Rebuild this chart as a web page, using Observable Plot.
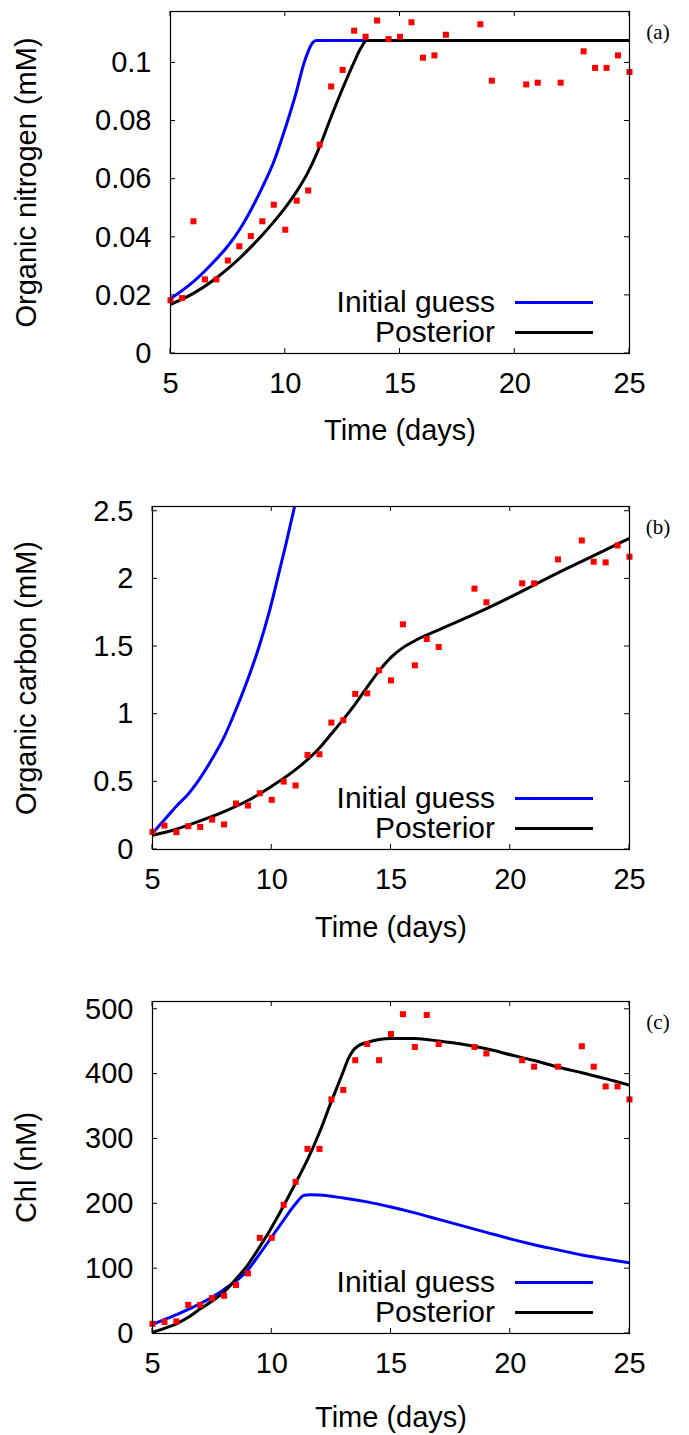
<!DOCTYPE html>
<html>
<head>
<meta charset="utf-8">
<script src="https://cdn.jsdelivr.net/npm/d3@7"></script>
<script src="https://cdn.jsdelivr.net/npm/@observablehq/plot@0.6"></script>
<style>
  html, body { margin: 0; padding: 0; background: #fff; }
  #chart { width: 689px; }
  #chart svg { display: block; }
</style>
</head>
<body>
<div id="chart"></div>
<script>
// ---------- data ----------
const seriesNames = ["Initial guess", "Posterior"];
const seriesColors = ["#0000ff", "#000000"];
const obsColor = "#ff0000";

const xTicks = [5, 10, 15, 20, 25];
const xLabel = "Time (days)";

// observation times (shared by the three panels)
const obsTime = [5, 5.5, 6, 6.5, 7, 7.5, 8, 8.5, 9, 9.5, 10, 10.5, 11, 11.5, 12, 12.5, 13, 13.5, 14, 14.5, 15, 15.5, 16, 16.5, 17, 18.5, 19, 20.5, 21, 22, 23, 23.5, 24, 24.5, 25];

// (a) organic nitrogen
const obsA = [0.0183, 0.0191, 0.0455, 0.0255, 0.0255, 0.0320, 0.0369, 0.0404, 0.0455, 0.0512, 0.0426, 0.0526, 0.0561, 0.0719, 0.0919, 0.0976, 0.1111, 0.1090, 0.1146, 0.1082, 0.1090, 0.1140, 0.1018, 0.1026, 0.1097, 0.1133, 0.0939, 0.0926, 0.0932, 0.0932, 0.1040, 0.0983, 0.0983, 0.1026, 0.0969];
const initTimeA = [5, 6, 7, 7.5, 8, 9, 9.5, 10, 10.5, 10.8, 11, 11.2, 11.35, 12, 25];
const initA = [0.0188, 0.0247, 0.0325, 0.0370, 0.0425, 0.0572, 0.0660, 0.0775, 0.0905, 0.0995, 0.1040, 0.1070, 0.1077, 0.1077, 0.1077];
const postTimeA = [5, 6, 7, 7.5, 8, 8.5, 9, 9.5, 10, 10.5, 11, 11.5, 12, 12.5, 13, 13.3, 13.55, 14, 25];
const postA = [0.0169, 0.0207, 0.0260, 0.0292, 0.0327, 0.0366, 0.0408, 0.0453, 0.0502, 0.0558, 0.0625, 0.0712, 0.0815, 0.0912, 0.1003, 0.1052, 0.1077, 0.1077, 0.1077];
const yTicksA = [0, 0.02, 0.04, 0.06, 0.08, 0.1];
const yLabelA = "Organic nitrogen (mM)";

// (b) organic carbon
const obsB = [0.13, 0.177, 0.128, 0.172, 0.167, 0.221, 0.185, 0.340, 0.325, 0.416, 0.367, 0.502, 0.473, 0.699, 0.704, 0.938, 0.955, 1.150, 1.154, 1.324, 1.250, 1.664, 1.361, 1.556, 1.497, 1.928, 1.827, 1.967, 1.967, 2.144, 2.284, 2.127, 2.122, 2.247, 2.164];
const initTimeB = [5, 5.5, 6, 6.5, 6.89, 7.5, 8, 8.42, 9, 9.47, 9.9, 10.24, 10.6, 10.95, 11.3];
const initB = [0.12, 0.22, 0.32, 0.41, 0.50, 0.67, 0.83, 1.0, 1.26, 1.5, 1.76, 2.0, 2.26, 2.53, 2.82];
const postTimeB = [5, 6, 7, 8, 9, 10, 11, 12, 12.5, 13, 13.5, 14, 14.5, 15, 15.5, 16, 17, 18, 19, 20, 21, 22, 23, 24, 25];
const postB = [0.105, 0.150, 0.212, 0.280, 0.362, 0.468, 0.590, 0.750, 0.855, 0.962, 1.075, 1.200, 1.320, 1.420, 1.492, 1.543, 1.623, 1.700, 1.780, 1.865, 1.955, 2.045, 2.130, 2.215, 2.300];
const yTicksB = [0, 0.5, 1, 1.5, 2, 2.5];
const yLabelB = "Organic carbon (mM)";

// (c) chlorophyll
const obsC = [15, 17.8, 18.7, 44.2, 44.2, 54.6, 58.2, 74.7, 92.7, 147.5, 147.5, 198.4, 233.8, 284.7, 284.7, 361, 375.6, 421.4, 446.4, 421.4, 461.8, 492.4, 441.9, 491.3, 446.4, 441.9, 431.9, 421.4, 411.5, 411.5, 443, 411.5, 381, 381, 361];
const initTimeC = [5, 6, 7, 8, 9, 9.5, 10, 10.5, 11, 11.35, 11.6, 12, 13, 14, 15, 16, 17, 18, 19, 20, 21, 22, 23, 24, 25];
const initC = [14, 29, 46, 68, 98, 123, 149, 175, 200, 213, 214, 213.5, 209, 203, 195, 186, 176, 166, 156, 146, 137, 129, 121, 115, 109];
const postTimeC = [5, 5.5, 6, 6.5, 7, 7.5, 8, 8.5, 9, 9.5, 10, 10.5, 11, 11.5, 12, 12.5, 13, 13.2, 13.4, 13.6, 14, 15, 16, 17, 18, 19, 20, 21, 22, 23, 24, 25];
const postC = [2, 8, 15, 25, 38, 50, 64, 84, 106, 134, 164, 197, 232, 268, 310, 358, 404, 423, 436, 443, 449, 455, 455, 451, 446, 439, 430, 421, 411, 402, 393, 383];
const yTicksC = [0, 100, 200, 300, 400, 500];
const yLabelC = "Chl (nM)";

// ---------- helpers ----------
const zip = (ts, vs) => ts.map((t, i) => ({t, v: vs[i]}));
const SANS = "'Liberation Sans', Arial, Helvetica, sans-serif";
const SERIF = "'Liberation Serif', 'Times New Roman', serif";

// inward, mirrored tick marks (gnuplot style) placed through Plot's own scales
function mirroredTicks(xt, yt) {
  return (index, scales, values, dimensions) => {
    const {width, height, marginLeft, marginRight, marginTop, marginBottom} = dimensions;
    const x0 = marginLeft, x1 = width - marginRight, y0 = marginTop, y1 = height - marginBottom;
    const g = d3.create("svg:g").attr("stroke", "#000").attr("stroke-width", 1).attr("fill", "none");
    for (const t of xt) {
      const x = scales.x(t);
      g.append("path").attr("d", `M${x},${y1}v-5M${x},${y0}v5`);
    }
    for (const t of yt) {
      const y = scales.y(t);
      g.append("path").attr("d", `M${x0},${y}h5M${x1},${y}h-5`);
    }
    return g.node();
  };
}

function legendAndTag(tag) {
  return (index, scales, values, dimensions) => {
    const {width, height, marginRight, marginBottom, marginTop} = dimensions;
    const right = width - marginRight;
    const bottom = height - marginBottom;
    const g = d3.create("svg:g").attr("font-family", SANS).attr("font-size", 30).attr("fill", "#000");
    seriesNames.forEach((name, i) => {
      const y = bottom - 50.6 + 30 * i;
      g.append("text").attr("x", right - 134).attr("y", y).attr("dy", "0.33em")
        .attr("text-anchor", "end").text(name);
      g.append("line").attr("x1", right - 114).attr("x2", right - 36)
        .attr("y1", y).attr("y2", y)
        .attr("stroke", seriesColors[i]).attr("stroke-width", 3);
    });
    g.append("text").attr("x", right + 29).attr("y", marginTop + 21).attr("dy", "0.35em")
      .attr("text-anchor", "middle").attr("font-family", SERIF).attr("font-size", 21)
      .text(tag);
    return g.node();
  };
}

function panel({obs, init, post, yDomain, yTicks, yLabel, tag, marginLeft, height, marginBottom, xLabelOffset}) {
  return Plot.plot({
    width: 689,
    height,
    marginTop: 11,
    marginRight: 60,
    marginBottom,
    marginLeft,
    style: {fontFamily: SANS, fontSize: "29px", color: "#000", background: "#fff"},
    x: {domain: [5, 25]},
    y: {domain: yDomain},
    marks: [
      Plot.line(init, {x: "t", y: "v", stroke: seriesColors[0], strokeWidth: 3, curve: "monotone-x", clip: true}),
      Plot.line(post, {x: "t", y: "v", stroke: seriesColors[1], strokeWidth: 3, curve: "monotone-x", clip: true}),
      Plot.dot(obs, {x: "t", y: "v", symbol: "square", r: 3.4, fill: obsColor, stroke: "none"}),
      Plot.frame({stroke: "#000", strokeWidth: 1.2}),
      mirroredTicks(xTicks, yTicks),
      Plot.axisX({anchor: "bottom", ticks: xTicks, tickSize: 0, tickPadding: 19, fontSize: 29,
        tickFormat: (d) => String(d),
        label: xLabel, labelAnchor: "center", labelOffset: xLabelOffset, labelArrow: "none"}),
      Plot.axisY({anchor: "left", ticks: yTicks, tickSize: 0, tickPadding: 19, fontSize: 29,
        tickFormat: (d) => String(d),
        label: yLabel, labelAnchor: "center", labelOffset: marginLeft - 15, labelArrow: "none"}),
      legendAndTag(tag)
    ]
  });
}

const chart = document.getElementById("chart");
chart.append(panel({obs: zip(obsTime, obsA), init: zip(initTimeA, initA), post: zip(postTimeA, postA),
  yDomain: [0, 0.1177], yTicks: yTicksA, yLabel: yLabelA, tag: "(a)", marginLeft: 170, height: 495, marginBottom: 142, xLabelOffset: 86}));
chart.append(panel({obs: zip(obsTime, obsB), init: zip(initTimeB, initB), post: zip(postTimeB, postB),
  yDomain: [0, 2.535], yTicks: yTicksB, yLabel: yLabelB, tag: "(b)", marginLeft: 152, height: 495, marginBottom: 141, xLabelOffset: 87}));
chart.append(panel({obs: zip(obsTime, obsC), init: zip(initTimeC, initC), post: zip(postTimeC, postC),
  yDomain: [0, 512], yTicks: yTicksC, yLabel: yLabelC, tag: "(c)", marginLeft: 152, height: 445, marginBottom: 102, xLabelOffset: 93}));
</script>
</body>
</html>
